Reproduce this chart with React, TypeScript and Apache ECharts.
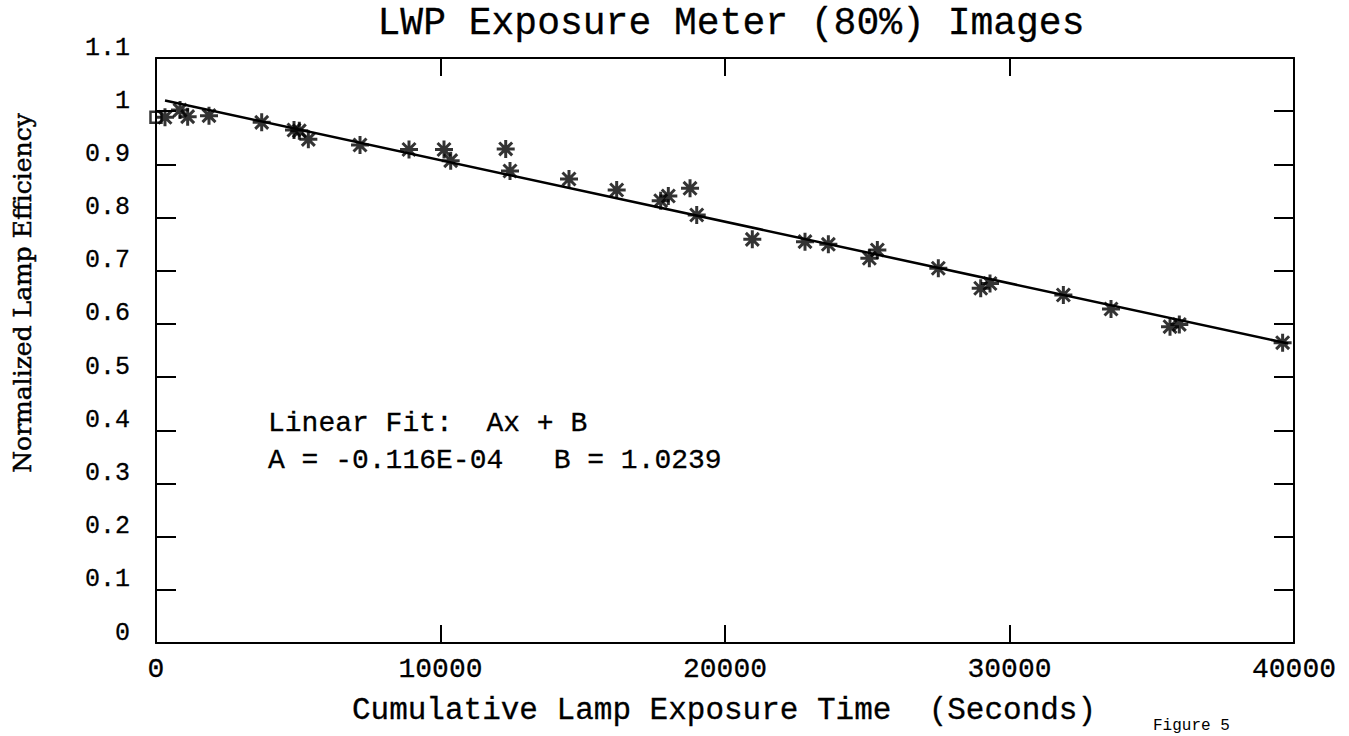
import React, { useEffect, useRef } from "react";
import * as echarts from "echarts";

const titleText = "LWP Exposure Meter (80%) Images";
const xTitle = "Cumulative Lamp Exposure Time  (Seconds)";
const yTitle = "Normalized Lamp Efficiency";
const fitLine1 = "Linear Fit:  Ax + B";
const fitLine2 = "A = -0.116E-04   B = 1.0239";
const figureNote = "Figure 5";

const xTicks = [0, 10000, 20000, 30000, 40000];
const yTickLabels = ["0", "0.1", "0.2", "0.3", "0.4", "0.5", "0.6", "0.7", "0.8", "0.9", "1", "1.1"];

const starX = [316, 844, 1113, 1863, 3715, 4851, 5037, 5355, 7171, 8893, 10123, 10358, 12292, 12443, 14517, 16193, 17740, 18008, 18771, 19006, 20960, 22812, 23633, 25074, 25355, 27498, 28988, 29315, 31893, 33568, 35642, 35969, 39600];
const starY = [0.9885, 1.002, 0.9897, 0.9916, 0.979, 0.9646, 0.963, 0.947, 0.9364, 0.928, 0.928, 0.907, 0.929, 0.8876, 0.8725, 0.8518, 0.8317, 0.8405, 0.855, 0.8048, 0.759, 0.7547, 0.7497, 0.7234, 0.739, 0.7046, 0.667, 0.676, 0.6544, 0.628, 0.5948, 0.599, 0.5647];

const squareX = [0];
const squareY = [0.9885];

const fitX = [316, 39800];
const fitY = [1.02, 0.563];

const MONO = "Liberation Mono";
const SERIF = "DejaVu Serif";

export default function App() {
  const ref = useRef<HTMLDivElement>(null);
  useEffect(() => {
    if (!ref.current) return;
    const chart = echarts.init(ref.current, null, { renderer: "svg" });
    const star = "path://M0,-1L0,1M-1,0L1,0M-0.72,-0.72L0.72,0.72M-0.72,0.72L0.72,-0.72";
    const axisLine = { show: true, onZero: false, lineStyle: { color: "#000", width: 2 } };
    const axisTickY = { show: true, inside: true, length: 20, lineStyle: { color: "#000", width: 2 } };
    const axisTickX = { show: true, inside: true, length: 18, lineStyle: { color: "#000", width: 2 } };
    const txt = (family: string, size: number, stroke: number) => ({
      fontFamily: family, fontSize: size, fill: "#000", stroke: "#000", lineWidth: stroke,
    });
    chart.setOption({
      animation: false,
      backgroundColor: "#fff",
      grid: { left: 156, right: 55, top: 58, bottom: 93, containLabel: false },
      xAxis: [
        {
          type: "value", min: 0, max: 40000, interval: 10000, position: "bottom",
          axisLine, axisTick: axisTickX, splitLine: { show: false },
          axisLabel: {
            show: true, margin: 12, color: "#000", fontFamily: MONO, fontSize: 28,
            textBorderColor: "#000", textBorderWidth: 0.3,
            formatter: (v: number) => (xTicks.includes(v) ? String(v) : ""),
          },
        },
        {
          type: "value", min: 0, max: 40000, interval: 10000, position: "top",
          axisLine, axisTick: axisTickX, splitLine: { show: false }, axisLabel: { show: false },
        },
      ],
      yAxis: [
        {
          type: "value", min: 0, max: 1.1, interval: 0.1, position: "left",
          axisLine, axisTick: axisTickY, splitLine: { show: false },
          axisLabel: {
            show: true, margin: 26, color: "#000", fontFamily: MONO, fontSize: 25,
            textBorderColor: "#000", textBorderWidth: 0.3,
            verticalAlign: "bottom", lineHeight: 20,
            formatter: (v: number) => yTickLabels[Math.round(v * 10)] ?? "",
          },
        },
        {
          type: "value", min: 0, max: 1.1, interval: 0.1, position: "right",
          axisLine, axisTick: axisTickY, splitLine: { show: false }, axisLabel: { show: false },
        },
      ],
      series: [
        {
          type: "line", data: fitX.map((x, i) => [x, fitY[i]]), showSymbol: false, symbol: "none",
          lineStyle: { color: "#000", width: 2.5 }, z: 2,
        },
        {
          type: "scatter", data: starX.map((x, i) => [x, starY[i]]), symbol: star, symbolSize: 18,
          itemStyle: { color: "#000", borderColor: "#000", borderWidth: 3 }, z: 3,
        },
        {
          type: "scatter", data: squareX.map((x, i) => [x, squareY[i]]), symbol: "rect", symbolSize: 11,
          itemStyle: { color: "rgba(0,0,0,0)", borderColor: "#000", borderWidth: 2.5 }, z: 3,
        },
      ],
      graphic: [
        {
          type: "text", x: 731, y: 23,
          style: { text: titleText, ...txt(MONO, 38, 0.3), textAlign: "center", textVerticalAlign: "middle" },
        },
        {
          type: "text", x: 724, y: 710,
          style: { text: xTitle, ...txt(MONO, 31, 0.3), textAlign: "center", textVerticalAlign: "middle" },
        },
        {
          type: "text", x: 22, y: 293, rotation: Math.PI / 2,
          style: { text: yTitle, ...txt(SERIF, 25, 0.5), textAlign: "center", textVerticalAlign: "middle" },
        },
        {
          type: "text", x: 268, y: 423,
          style: { text: fitLine1, ...txt(MONO, 28, 0.3), textAlign: "left", textVerticalAlign: "middle" },
        },
        {
          type: "text", x: 268, y: 460,
          style: { text: fitLine2, ...txt(MONO, 28, 0.3), textAlign: "left", textVerticalAlign: "middle" },
        },
        {
          type: "text", x: 1153, y: 734,
          style: { text: figureNote, ...txt(MONO, 16, 0), textAlign: "left", textVerticalAlign: "bottom" },
        },
      ],
    });
    return () => chart.dispose();
  }, []);
  return <div ref={ref} style={{ width: 1349, height: 736, position: "absolute", left: 0, top: 0 }} />;
}
